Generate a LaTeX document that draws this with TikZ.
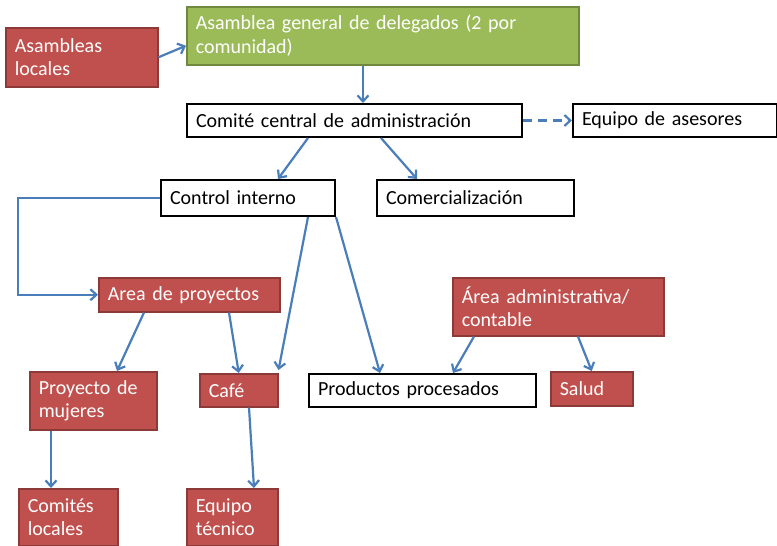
\documentclass[tikz,border=0pt]{standalone}
\usepackage{fontspec}
\setmainfont{Carlito}
\usepackage{tikz}
\usetikzlibrary{arrows.meta,positioning}
\definecolor{boxred}{HTML}{C0504D}
\definecolor{boxredline}{HTML}{8C3A37}
\definecolor{boxgreen}{HTML}{9BBB59}
\definecolor{boxgreenline}{HTML}{71893F}
\definecolor{linkblue}{HTML}{4A7EBB}
\tikzset{>={Straight Barb[length=6pt,width=11pt]}}

\begin{document}
\begin{tikzpicture}[x=1pt,y=-1pt,font=\fontsize{20}{23.5}\selectfont,
    every node/.style={anchor=north west,inner xsep=9pt,inner ysep=0pt,align=left},
    redbox/.style={fill=boxred,draw=boxredline,line width=1.5pt,text=white},
    greenbox/.style={fill=boxgreen,draw=boxgreenline,line width=1.5pt,text=white},
    plainbox/.style={fill=white,draw=black,line width=2pt},
    link/.style={draw=linkblue,line width=2.2pt,->}]
    \useasboundingbox (0,0) rectangle (777,546);
    \node [redbox,text width=134pt,minimum height=59pt] (asloc) at (5,27) {Asambleas\\locales};
    \node [greenbox,text width=374pt,minimum height=58pt] (asgen) at (186,6) {Asamblea general de delegados (2 por\\comunidad)};
    \node [plainbox,text width=317pt,minimum height=33pt] (comite) at (186,103) {Comité central de administración};
    \node [plainbox,text width=186pt,minimum height=33pt] (asesores) at (572,103) {Equipo de asesores};
    \node [plainbox,text width=156pt,minimum height=36pt] (control) at (160,179) {Control interno};
    \node [plainbox,text width=179pt,minimum height=36pt] (comerc) at (376,179) {Comercialización};
    \node [redbox,text width=163pt,minimum height=34pt] (areaproy) at (98,277) {Area de proyectos};
    \node [redbox,text width=193pt,minimum height=58pt] (areaadm) at (452,277) {Área administrativa/\\contable};
    \node [redbox,text width=109pt,minimum height=58pt] (mujeres) at (29,371) {Proyecto de\\mujeres};
    \node [redbox,text width=60pt,minimum height=33pt] (cafe) at (199,373) {Café};
    \node [plainbox,text width=209pt,minimum height=33pt] (productos) at (308,373) {Productos procesados};
    \node [redbox,text width=64pt,minimum height=34pt] (salud) at (550,371) {Salud};
    \node [redbox,text width=81pt,minimum height=57pt] (comloc) at (18,488) {Comités\\locales};
    \node [redbox,text width=73pt,minimum height=57pt] (eqtec) at (186,488) {Equipo\\técnico};

    \draw [link] (asloc.east) -- ([yshift=-10pt]asgen.west);
    \draw [link] ([xshift=177pt]asgen.south west) -- ([xshift=177pt]comite.north west);
    \draw [link,dash pattern=on 9pt off 6pt] (comite.east) -- (asesores.west);
    \draw [link] ([xshift=122pt]comite.south west) -- ([xshift=118pt]control.north west);
    \draw [link] ([xshift=195pt]comite.south west) -- ([xshift=41pt]comerc.north west);
    \draw [link] (control.west) -| ([xshift=-80pt]areaproy.west) -- (areaproy.west);
    \draw [link] ([xshift=148pt]control.south west) -- ([yshift=3pt]cafe.north east);
    \draw [link] (control.south east) -- ([xshift=72pt]productos.north west);
    \draw [link] ([xshift=46pt]areaproy.south west) -- ([xshift=88pt]mujeres.north west);
    \draw [link] ([xshift=131pt]areaproy.south west) -- (cafe.north);
    \draw [link] ([xshift=22pt]mujeres.south west) -- ([xshift=33pt]comloc.north west);
    \draw [link] ([xshift=50pt]cafe.south west) -- ([xshift=68pt]eqtec.north west);
    \draw [link] ([xshift=22pt]areaadm.south west) -- ([xshift=145pt]productos.north west);
    \draw [link] ([xshift=126pt]areaadm.south west) -- (salud.north);
\end{tikzpicture}
\end{document}
